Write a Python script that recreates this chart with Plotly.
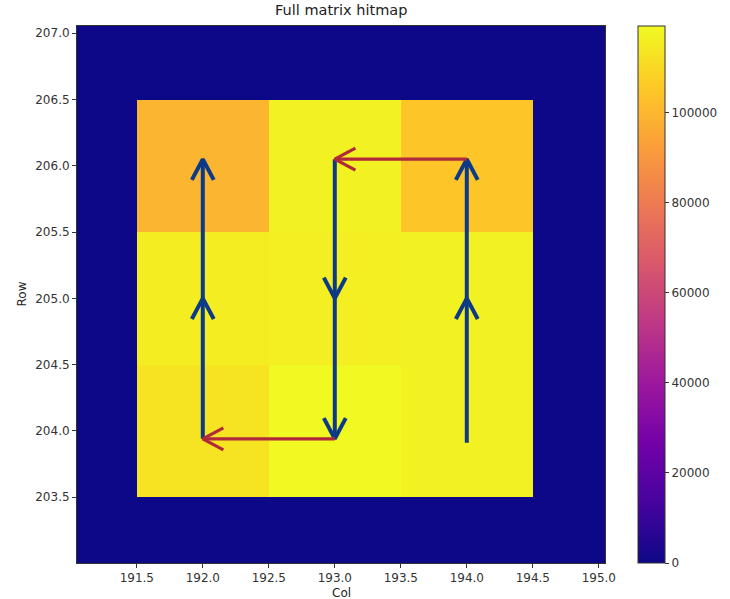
import plotly.graph_objects as go

# ---- data ----
cols = [191, 192, 193, 194, 195]
rows = [203, 204, 205, 206, 207]
hits = [
    [0, 0, 0, 0, 0],
    [0, 113500, 119300, 117100, 0],
    [0, 116000, 116600, 117000, 0],
    [0, 99500, 117000, 104500, 0],
    [0, 0, 0, 0, 0],
]
# scan path (col, row) and segment colours
path_cols = [194, 194, 194, 193, 193, 193, 192, 192, 192]
path_rows = [203.91, 205.0, 206.05, 206.05, 205.0, 203.94, 203.94, 205.0, 206.05]
x_ticks = [191.5, 192.0, 192.5, 193.0, 193.5, 194.0, 194.5, 195.0]
y_ticks = [203.5, 204.0, 204.5, 205.0, 205.5, 206.0, 206.5, 207.0]
cb_ticks = [0, 20000, 40000, 60000, 80000, 100000]

BLUE = "#0c3a88"
RED = "#b02a3a"

W, H = 730, 599
L, R, T, B = 76.7, 606.7, 26, 563.3
x_range = [191.047, 195.047]
y_range = [203.003, 207.055]

fig = go.Figure()
fig.add_trace(go.Heatmap(
    x=cols, y=rows, z=hits, colorscale="Plasma", zmin=0, zmax=119300,
    showscale=True,
    colorbar=dict(
        x=(640 - L) / (R - L), xanchor="left", xpad=0,
        y=0.5, yanchor="middle", len=1, lenmode="fraction", ypad=0,
        thickness=27, thicknessmode="pixels",
        outlinewidth=1, outlinecolor="#333",
        tickvals=cb_ticks, tickformat="d", ticks="outside", ticklen=4,
        tickcolor="#333", tickfont=dict(family="DejaVu Sans", size=12, color="#333"),
    ),
    hoverinfo="skip",
))

# arrows: lines + open chevron heads
back = 0.156
side = 0.083
segs = {BLUE: ([], []), RED: ([], [])}
for i in range(len(path_cols) - 1):
    x0, y0 = path_cols[i], path_rows[i]
    x1, y1 = path_cols[i + 1], path_rows[i + 1]
    dx, dy = x1 - x0, y1 - y0
    n = (dx * dx + dy * dy) ** 0.5
    ux, uy = dx / n, dy / n
    px, py = -uy, ux
    color = BLUE if dx == 0 else RED
    xs, ys = segs[color]
    xs += [x0, x1, None,
           x1 - back * ux + side * px, x1, x1 - back * ux - side * px, None]
    ys += [y0, y1, None,
           y1 - back * uy + side * py, y1, y1 - back * uy - side * py, None]

for color, (xs, ys) in segs.items():
    fig.add_trace(go.Scatter(
        x=xs, y=ys, mode="lines",
        line=dict(color=color, width=4 if color == BLUE else 3.2),
        hoverinfo="skip", showlegend=False,
    ))

axis_common = dict(
    showgrid=False, zeroline=False, showline=True, mirror=True,
    linecolor="#333", linewidth=1, ticks="outside", ticklen=4, tickcolor="#333",
    tickfont=dict(family="DejaVu Sans", size=12, color="#333"),
    tickformat=".1f", automargin=False,
)
fig.update_xaxes(range=x_range, tickvals=x_ticks, **axis_common)
fig.update_yaxes(range=y_range, tickvals=y_ticks, **axis_common)

fig.update_layout(
    width=W, height=H,
    margin=dict(l=L, r=W - R, t=T, b=H - B, pad=0),
    paper_bgcolor="white", plot_bgcolor="white",
    font=dict(family="DejaVu Sans", color="#222"),
    showlegend=False,
    annotations=[
        dict(text="Full matrix hitmap", xref="paper", yref="paper",
             x=0.5, y=1, yshift=16, xanchor="center", yanchor="middle",
             showarrow=False, font=dict(size=14.5, color="#222")),
        dict(text="Col", xref="paper", yref="paper",
             x=0.5, y=0, yshift=-30, xanchor="center", yanchor="middle",
             showarrow=False, font=dict(size=12, color="#222")),
        dict(text="Row", xref="paper", yref="paper",
             x=0, xshift=-56, y=0.5, xanchor="center", yanchor="middle",
             textangle=-90, showarrow=False, font=dict(size=12, color="#222")),
    ],
)

fig.write_html("out.html")
